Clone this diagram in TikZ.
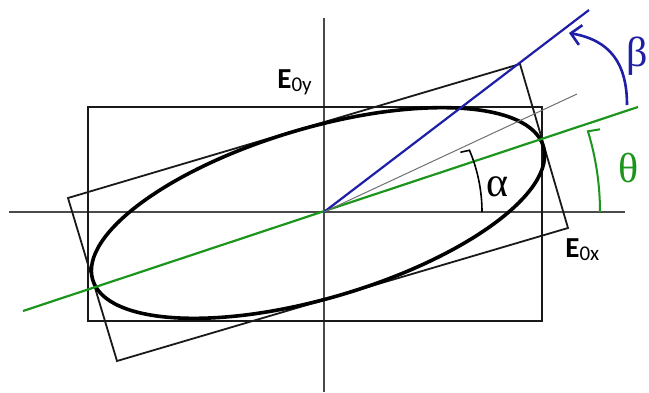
\documentclass[tikz,border=0pt]{standalone}
\usepackage{fontspec}
\usepackage{xcolor}
\usepackage{tikz}
\usetikzlibrary{arrows.meta}
\newfontfamily\greekfont{Liberation Serif}
\newfontfamily\labelfont{Carlito}
\definecolor{elGreen}{HTML}{1B951B}
\definecolor{elBlue}{HTML}{1E1EA6}
\definecolor{elGrey}{HTML}{4A4A4A}
\definecolor{elLight}{HTML}{707070}
\newcommand{\fieldsub}[1]{\raisebox{-1.5pt}{\fontsize{10.5}{10.5}\selectfont\mdseries #1}}
\tikzset{
  axisline/.style={draw=elGrey, line width=0.85pt},
  boxline/.style={draw=black!90, line width=0.9pt, line join=miter},
  ellipseline/.style={draw=black, line width=1.8pt},
  majoraxis/.style={draw=elGreen, line width=1.1pt},
  polaraxis/.style={draw=elBlue, line width=1.1pt},
  diagline/.style={draw=elLight, line width=0.5pt},
  anglearc/.style={draw=#1, line width=0.8pt},
  greeklabel/.style={font=\greekfont\fontsize{21}{21}\selectfont, inner sep=0pt},
  fieldlabel/.style={font=\labelfont\bfseries\fontsize{14.5}{14.5}\selectfont, inner sep=0pt, anchor=base west}
}
\begin{document}
\begin{tikzpicture}[x=0.5pt, y=0.5pt]
        \useasboundingbox (-324,-180) rectangle (325,212);
        \coordinate (O) at (0,0);
        % axes
        \draw[axisline] (-315,0) -- (301,0);
        \draw[axisline] (0,-180) -- (0,194);
        % bounding boxes
        \draw[boxline] (-236,-109) rectangle (218,105);
        \draw[boxline] (-256,14) -- (196,148) -- (244,-16) -- (-207,-149) -- cycle;
        % polarisation ellipse
        \draw[ellipseline, rotate around={16.5:(-6,-1)}] (-6,-1) ellipse [x radius=235, y radius=85];
        % directions
        \draw[majoraxis] (-301,-99) -- (314,105);
        \draw[polaraxis] (O) -- (265,202);
        \draw[diagline] (O) -- (253,118);
        % angles
        \draw[anglearc=black] (158,0) arc[start angle=0, end angle=23, radius=158] -- ++(-9,-2);
        \draw[anglearc=elGreen, line width=1pt] (276,0) arc[start angle=0, end angle=17, radius=276] -- ++(12,2);
        \draw[anglearc=elBlue, line width=1.3pt, -{Straight Barb[length=5pt, width=10pt]}] (303,107) .. controls (303,150) and (285,172) .. (245,179);
        % labels
        \node[greeklabel] (alpha) at (174,25) {α};
        \node[greeklabel, text=elGreen] (theta) at (305,44) {θ};
        \node[greeklabel, text=elBlue, anchor=base west] (beta) at (302,146) {β};
        \node[fieldlabel] (Ey) at (-47,124) {E\fieldsub{0y}};
        \node[fieldlabel] (Ex) at (241,-45) {E\fieldsub{0x}};
\end{tikzpicture}
\end{document}
